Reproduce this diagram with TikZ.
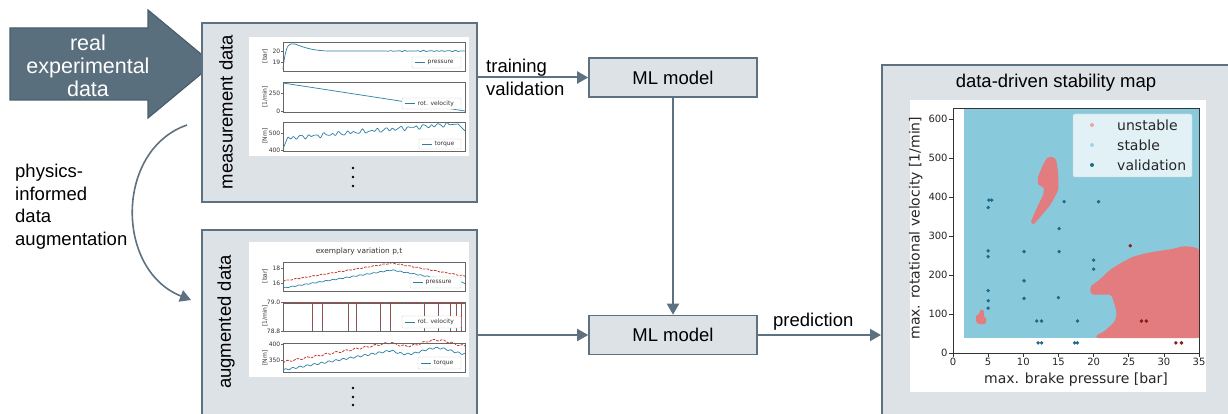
\documentclass[tikz,border=0pt]{standalone}
\usepackage{fontspec}
\setmainfont{Liberation Sans}
\newfontfamily\plotfont{DejaVu Sans}
\usetikzlibrary{arrows.meta,positioning}

\definecolor{panelfill}{HTML}{DDE2E7}
\definecolor{panelline}{HTML}{5D7180}
\definecolor{arrowfill}{HTML}{5A6F7E}
\definecolor{arrowline}{HTML}{4A5D6A}
\definecolor{stabblue}{HTML}{89C9DC}
\definecolor{unstabred}{HTML}{E27C7E}
\definecolor{unstabpink}{HTML}{F0A4A6}
\definecolor{stablight}{HTML}{9DD6E8}
\definecolor{valdot}{HTML}{1B6C8A}
\definecolor{valred}{HTML}{8B1C1C}
\definecolor{curveblue}{HTML}{2B7FA3}
\definecolor{curvered}{HTML}{C0392B}

\tikzset{
  panel/.style={draw=panelline,fill=panelfill,line width=2pt,inner sep=0pt},
  mlbox/.style={draw=panelline,fill=panelfill,line width=1.6pt,minimum width=168pt,minimum height=39pt,font=\fontsize{18.5}{22}\selectfont},
  flow/.style={draw=panelline,line width=2pt,-{Triangle[length=11pt,width=12pt]}},
  bigtext/.style={font=\fontsize{18.5}{22.5}\selectfont},
  axbox/.style={draw=black!60,line width=0.5pt},
  tinytxt/.style={font=\plotfont\fontsize{6}{7}\selectfont,inner sep=0.5pt,text=black!80},
  legbox/.style={draw=black!20,fill=white,rounded corners=0.8pt,line width=0.4pt},
  meascurve/.style={curveblue,line width=0.7pt},
  augcurve/.style={curvered,line width=0.8pt,dash pattern=on 2.6pt off 1.2pt},
  plottxt/.style={font=\plotfont\fontsize{10}{12}\selectfont,inner sep=1pt,text=black!85},
  plotlbl/.style={font=\plotfont\fontsize{14}{16}\selectfont,text=black!85},
}

\begin{document}
\begin{tikzpicture}[x=1pt,y=-1pt]
\useasboundingbox (0,0) rectangle (1228,414);
\clip (0,0) rectangle (1228,414);

% input arrow
\draw[fill=arrowfill,draw=arrowline,line width=1.2pt] (10,28) -- (148,28) -- (148,10) -- (213,64) -- (148,118) -- (148,100) -- (10,100) -- cycle;
\node[text=white,align=center,font=\fontsize{21.5}{23}\selectfont] (realdata) at (88,66) {real\\experimental\\data};

% panels
\node[panel,minimum width=275pt,minimum height=179pt] (meas) at (339.5,112.5) {};
\node[panel,minimum width=275pt,minimum height=200pt] (aug) at (339.5,330) {};
\node[panel,minimum width=380pt,minimum height=380pt] (smap) at (1072,255) {};
\node[rotate=90,bigtext] (measlbl) at (226,112) {measurement data};
\node[rotate=90,bigtext] (auglbl) at (226,322) {augmented data};
\node[bigtext] (smaptitle) at (1056,83) {data-driven stability map};

\node[mlbox] (mltop) at (673,77.5) {ML model};
\node[mlbox] (mlbot) at (673,335) {ML model};

% connectors
\draw[flow] (meas.east |- mltop) -- (mltop.west);
\draw[flow] (mltop) -- (mlbot);
\draw[flow] (aug.east |- mlbot) -- (mlbot.west);
\draw[flow] (mlbot.east) -- (smap.west |- mlbot.east);
\node[bigtext,anchor=base west,inner sep=0pt] (trainlbl) at (486,73) {training};
\node[bigtext,anchor=base west,inner sep=0pt] (vallbl) at (486,96) {validation};
\node[bigtext,anchor=base west,inner sep=0pt] (predlbl) at (773,326) {prediction};

\coordinate (augfrom) at (187,125);
\coordinate (augto) at (191,300);
\draw[flow,line width=1.6pt] (augfrom) .. controls (115,150) and (115,270) .. (augto);
\node[bigtext,align=left,anchor=north west,inner sep=0pt] (physlbl) at (15,164) {physics-\\informed\\data\\augmentation};

% measurement plots
\fill[white] (249,37) rectangle (469,156);
\draw[meascurve] (283,69) .. controls (285,52) and (287,44) .. (291,44) -- (295,44) .. controls (305,48) and (315,51) .. (330,51) -- plot[domain=330:465,samples=120] (\x,{51+0.45*sin(61*(\x-280))*sin(17*(\x-280))*(\x>385)+0.3*sin(57*(\x-280))*(\x>400)});
\draw[axbox] (283,42) rectangle (465,71);
\draw[legbox] (412,57) rectangle (461,68);
\draw[meascurve] (415,62.5) -- (425,62.5);
\node[tinytxt,anchor=west] (mleg1) at (427,62.5) {pressure};
\foreach \v/\yy in {20/51,19/62} {
  \draw[axbox] (281,\yy) -- (283,\yy);
  \node[tinytxt,anchor=east] (mt\v) at (281,\yy) {\v};
}
\node[tinytxt,rotate=90] (my1) at (265,56) {[bar]};

\draw[meascurve] (283,83) -- (465,111);
\draw[axbox] (283,82) rectangle (465,112);
\draw[legbox] (402,98) rectangle (461,109);
\draw[meascurve] (405,103.5) -- (415,103.5);
\node[tinytxt,anchor=west] (mleg2) at (417,103.5) {rot. velocity};
\foreach \v/\yy in {250/93,0/111} {
  \draw[axbox] (281,\yy) -- (283,\yy);
  \node[tinytxt,anchor=east] (mt\v) at (281,\yy) {\v};
}
\node[tinytxt,rotate=90] (my2) at (265,97) {[1/min]};

\draw[meascurve] (283,149) -- (287,139) -- plot[domain=288:450,samples=140] (\x,{138-(\x-288)*0.085+1.3*sin(47*(\x-280))+0.9*sin(29*(\x-280)+40)+0.6*sin(73*(\x-280))}) -- (458,124) -- (465,131);
\draw[axbox] (283,122) rectangle (465,151);
\draw[legbox] (419,139) rectangle (461,149);
\draw[meascurve] (422,144) -- (432,144);
\node[tinytxt,anchor=west] (mleg3) at (434,144) {torque};
\foreach \v/\yy in {500/133,400/150} {
  \draw[axbox] (281,\yy) -- (283,\yy);
  \node[tinytxt,anchor=east] (mt\v) at (281,\yy) {\v};
}
\node[tinytxt,rotate=90] (my3) at (265,136) {[Nm]};
\foreach \dy in {168,177,186} \fill (353,\dy) circle[radius=1.4pt];

% augmented plots
\fill[white] (249,242) rectangle (469,377);
\node[tinytxt,font=\plotfont\fontsize{7.4}{9}\selectfont] (augtitle) at (359,251) {exemplary variation p,t};
\draw[meascurve] plot[domain=283:465,samples=110] (\x,{(\x<392)*(288-(\x-283)*0.165)+(\x>=392)*(270+(\x-392)*0.18)+0.5*sin(53*(\x-280))});
\draw[augcurve] plot[domain=283:465,samples=110] (\x,{(\x<392)*(281-(\x-283)*0.165)+(\x>=392)*(263+(\x-392)*0.18)+0.4*sin(41*(\x-280))});
\draw[axbox] (283,262) rectangle (465,291);
\draw[legbox] (410,277) rectangle (461,288);
\draw[meascurve] (413,282.5) -- (423,282.5);
\node[tinytxt,anchor=west] (aleg1) at (425,282.5) {pressure};
\foreach \v/\yy in {18/268,16/283} {
  \draw[axbox] (281,\yy) -- (283,\yy);
  \node[tinytxt,anchor=east] (at\v) at (281,\yy) {\v};
}
\node[tinytxt,rotate=90] (ay1) at (265,276) {[bar]};

\draw[meascurve] (283,303) -- (465,303);
\draw[augcurve] (283,303) -- (465,303);
\foreach \sx in {312.3,322.7,348.3,356.7,380.7,390,424,438.3,450,456.7,461.7} {
  \draw[meascurve,line width=1pt] (\sx,303) -- (\sx,331);
  \draw[augcurve] (\sx,303) -- (\sx,331);
}
\draw[axbox] (283,302) rectangle (465,331);
\draw[legbox] (402,316) rectangle (461,328);
\draw[meascurve] (405,322) -- (415,322);
\node[tinytxt,anchor=west] (aleg2) at (417,322) {rot. velocity};
\foreach \v/\yy in {79.0/302,78.8/331} {
  \draw[axbox] (281,\yy) -- (283,\yy);
  \node[tinytxt,anchor=east] (at\v) at (281,\yy) {\v};
}
\node[tinytxt,rotate=90] (ay2) at (265,316) {[1/min]};

\draw[meascurve] plot[domain=283:465,samples=130] (\x,{(\x<392)*(370-(\x-283)*0.18)+(\x>=392)*(351+3*sin(6*(\x-392)))+0.9*sin(50*(\x-280))});
\draw[augcurve] plot[domain=283:465,samples=130] (\x,{(\x<392)*(362-(\x-283)*0.18)+(\x>=392)*(343+3*sin(6*(\x-392)))+0.9*sin(37*(\x-280))});
\draw[axbox] (283,343) rectangle (465,372);
\draw[legbox] (418,357) rectangle (461,369);
\draw[meascurve] (421,363) -- (431,363);
\node[tinytxt,anchor=west] (aleg3) at (433,363) {torque};
\foreach \v/\yy in {400/344,350/360} {
  \draw[axbox] (281,\yy) -- (283,\yy);
  \node[tinytxt,anchor=east] (at\v) at (281,\yy) {\v};
}
\node[tinytxt,rotate=90] (ay3) at (265,358) {[Nm]};
\foreach \dy in {388,397,405} \fill (353,\dy) circle[radius=1.4pt];

% stability map
\fill[white] (910,100) rectangle (1206,392);
\begin{scope}[shift={(953,353)},x=7.03pt,y=0.39pt]
  \fill[stabblue] (1.5,38) rectangle (35,628);
  \fill[unstabred] plot[smooth cycle,tension=0.3] coordinates {(14.04,503) (14.65,495) (14.94,462) (14.94,418) (13.8,379) (12.4,349) (11.5,331) (11.1,336) (11.8,367) (12.8,405) (12.9,423) (12.1,433) (12.1,451) (12.8,482) (13.4,500)};
  \fill[unstabred] plot[smooth cycle,tension=0.4] coordinates {(3.6,75) (4.6,75) (4.7,88) (4.4,95) (4.4,108) (3.9,110) (3.7,100) (3.3,95) (3.3,82)};
  \fill[unstabred,rounded corners=2pt] (20.4,38) -- (20.3,45) -- (21.5,55) -- (23.0,80) -- (23.3,102) -- (22.9,130) -- (22.5,150) -- (19.6,150) -- (19.5,170) -- (21,190) -- (22.3,213) -- (24,232) -- (25.6,247) -- (27.5,256) -- (29.4,262) -- (31,266) -- (32.8,274) -- (34,272) -- (35,268) -- (35,38) -- cycle;
  \foreach \px/\py in {5.1/392,5.5/392,5.0/373,5.0/262,5.0/247,5.0/160,5.0/134,5.0/115,10.1/260,10.1/185,10.1/140,11.9/82,12.6/82,12.1/26,12.6/26,17.3/26,17.7/26,17.7/82,15.1/319,15.1/260,15.0/142,15.8/388,20.7/388,20.0/238,20.0/215}
    \fill[valdot] (\px,\py) circle[radius=1.9pt];
  \foreach \px/\py in {25.2/275,26.8/82,27.5/82,31.7/26,32.5/26}
    \fill[valred] (\px,\py) circle[radius=1.9pt];
  \draw[black!80,line width=0.6pt] (0,0) rectangle (35,628);
  \foreach \v in {0,5,...,35} {
    \draw[black!80,line width=0.6pt] (\v,0) -- (\v,-9);
    \node[plottxt,anchor=north] (xt\v) at (\v,-10) {\v};
  }
  \foreach \v in {0,100,...,600} {
    \draw[black!80,line width=0.6pt] (0,\v) -- (-0.5,\v);
    \node[plottxt,anchor=east] (yt\v) at (-0.6,\v) {\v};
  }
  \node[plotlbl] (xlab) at (17.5,-68) {max. brake pressure [bar]};
  \node[plotlbl,rotate=90] (ylab) at (-5.3,320) {max. rotational velocity [1/min]};
\end{scope}
\draw[draw=black!15,fill=white,fill opacity=0.75,rounded corners=2pt] (1073,114) rectangle (1192,177);
\fill[unstabpink] (1092,125) circle[radius=2pt];
\fill[stablight] (1092,145) circle[radius=2pt];
\fill[valdot] (1092,165) circle[radius=2pt];
\node[plotlbl,anchor=west,inner sep=0pt] (legu) at (1117,125) {unstable};
\node[plotlbl,anchor=west,inner sep=0pt] (legs) at (1117,145) {stable};
\node[plotlbl,anchor=west,inner sep=0pt] (legv) at (1117,165) {validation};
\end{tikzpicture}
\end{document}
